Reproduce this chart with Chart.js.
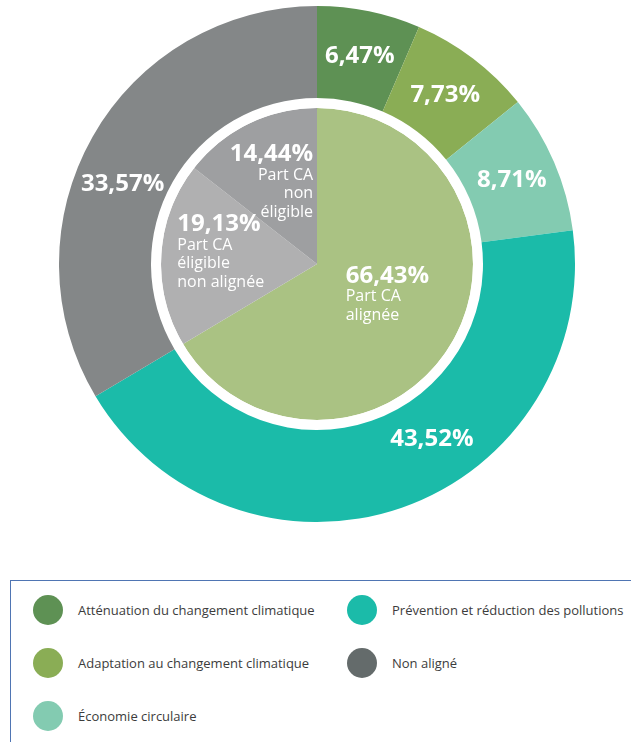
<!DOCTYPE html>
<html lang="fr">
<head>
<meta charset="utf-8">
<script src="https://cdn.jsdelivr.net/npm/chart.js@4/dist/chart.umd.min.js"></script>
<style>
  body { margin: 0; width: 631px; height: 742px; background: #fff; position: relative; overflow: hidden; font-family: "Open Sans", sans-serif; }
  #wrap { position: absolute; left: 59px; top: 6px; width: 516px; height: 516px; }
  #legend { position: absolute; left: 10px; top: 580px; width: 640px; height: 200px; border: 1px solid #4f75b3; box-sizing: border-box; }
  .item { position: absolute; display: flex; align-items: center; font-size: 13px; color: #3c3c3c; }
  .dot { width: 30px; height: 30px; border-radius: 50%; margin-right: 15px; }
</style>
</head>
<body>
<div id="wrap"><canvas id="chart"></canvas></div>
<div id="legend"></div>
<script>
// outer ring : chiffre d'affaires par objectif
const outerLabels = ['Atténuation du changement climatique', 'Adaptation au changement climatique', 'Économie circulaire', 'Prévention et réduction des pollutions', 'Non aligné'];
const outerValues = [6.47, 7.73, 8.71, 43.52, 33.57];
const outerColors = ['#5e9154', '#8aad55', '#83cbb1', '#1bbba9', '#848788'];

// inner pie : part CA
const innerLabels = [['Part CA', 'alignée'], ['Part CA', 'éligible', 'non alignée'], ['Part CA', 'non', 'éligible']];
const innerValues = [66.43, 19.13, 14.44];
const innerColors = ['#aac283', '#b0b0b1', '#9e9fa1'];

// legend order / colours
const legendOrder = [0, 3, 1, 4, 2];
const legendColors = ['#5e9154', '#8aad55', '#83cbb1', '#1bbba9', '#646b6b'];

function fmt(v) {
  return v.toFixed(2).replace('.', ',') + '%';
}

// where the text sits inside each slice (angle fraction, radius fraction, align)
const outerPos = [[0.5, 0.5], [0.5, 0.5], [0.5, 0.5], [0.41, 0.47], [0.44, 0.48]];
const innerPos = [[0.515, 0.22, 'left'], [0.64, 0.92, 'left'], [0.958, 0.66, 'right']];

const labelPlugin = {
  id: 'sliceLabels',
  afterDatasetsDraw(chart) {
    const ctx = chart.ctx;
    ctx.save();
    ctx.fillStyle = '#ffffff';

    // outer ring
    chart.getDatasetMeta(0).data.forEach(function (arc, i) {
      const p = arc.getProps(['x', 'y', 'startAngle', 'endAngle', 'innerRadius', 'outerRadius'], true);
      const a = p.startAngle + (p.endAngle - p.startAngle) * outerPos[i][0];
      const r = p.innerRadius + (p.outerRadius - p.innerRadius) * outerPos[i][1];
      ctx.font = 'bold 24px "Open Sans"';
      ctx.textAlign = 'center';
      ctx.textBaseline = 'middle';
      ctx.fillText(fmt(outerValues[i]), p.x + Math.cos(a) * r, p.y + Math.sin(a) * r);
    });

    // inner pie
    chart.getDatasetMeta(2).data.forEach(function (arc, i) {
      const p = arc.getProps(['x', 'y', 'startAngle', 'endAngle', 'outerRadius'], true);
      const a = p.startAngle + (p.endAngle - p.startAngle) * innerPos[i][0];
      const r = p.outerRadius * innerPos[i][1];
      const x = p.x + Math.cos(a) * r;
      const y = p.y + Math.sin(a) * r;
      ctx.textAlign = innerPos[i][2];
      ctx.textBaseline = 'alphabetic';
      ctx.font = 'bold 24px "Open Sans"';
      ctx.fillText(fmt(innerValues[i]), x, y);
      ctx.font = '16px "Open Sans"';
      innerLabels[i].forEach(function (line, k) {
        ctx.fillText(line, x, y + 18.5 * (k + 1));
      });
    });
    ctx.restore();
  }
};

new Chart(document.getElementById('chart'), {
  type: 'doughnut',
  data: {
    labels: outerLabels,
    datasets: [
      { data: outerValues, backgroundColor: outerColors, borderWidth: 0, weight: 92 },
      { data: [100], backgroundColor: ['#ffffff'], borderWidth: 0, weight: 10 },
      { data: innerValues, backgroundColor: innerColors, borderWidth: 0, weight: 156 }
    ]
  },
  options: {
    responsive: true,
    maintainAspectRatio: false,
    animation: false,
    events: [],
    cutout: 0,
    layout: { padding: 0 },
    plugins: {
      legend: { display: false },
      tooltip: { enabled: false }
    }
  },
  plugins: [labelPlugin]
});

// html legend, two columns
const legend = document.getElementById('legend');
legendOrder.forEach(function (idx, n) {
  const col = n % 2;
  const row = Math.floor(n / 2);
  const el = document.createElement('div');
  el.className = 'item';
  el.style.left = (col === 0 ? 22 : 336) + 'px';
  el.style.top = (14 + row * 53) + 'px';
  el.innerHTML = '<span class="dot" style="background:' + legendColors[idx] + '"></span>' + outerLabels[idx];
  legend.appendChild(el);
});
</script>
</body>
</html>
